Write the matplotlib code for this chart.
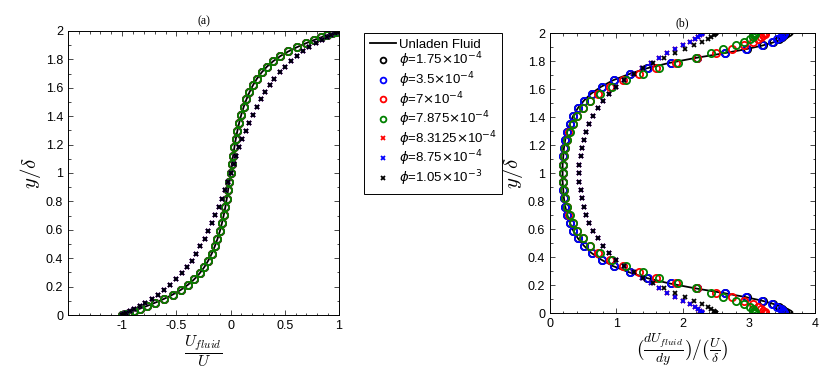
import matplotlib
matplotlib.use('Agg')
import matplotlib.pyplot as plt
from matplotlib.ticker import MultipleLocator, FormatStrFormatter
from matplotlib.font_manager import FontProperties

plt.rcParams['font.family'] = ['Liberation Sans', 'DejaVu Sans']
plt.rcParams['mathtext.fontset'] = 'cm'

# wall-normal positions of the samples (same for every series)
y_pos = [0.0, 0.0018, 0.0073, 0.0164, 0.0291, 0.0453, 0.0650, 0.0881, 0.1145,
         0.1442, 0.1770, 0.2128, 0.2515, 0.2929, 0.3369, 0.3833, 0.4319, 0.4827,
         0.5353, 0.5895, 0.6454, 0.7026, 0.7607, 0.8196, 0.8795, 0.9396, 1.0,
         1.0604, 1.1205, 1.1804, 1.2393, 1.2974, 1.3546, 1.4105, 1.4647, 1.5173,
         1.5681, 1.6167, 1.6631, 1.7071, 1.7485, 1.7872, 1.8230, 1.8558, 1.8855,
         1.9119, 1.9350, 1.9547, 1.9709, 1.9836, 1.9927, 1.9982, 2.0]

# (a) velocity profiles
u_unladen = [-1.0, -0.994, -0.973, -0.940, -0.894, -0.836, -0.768, -0.693, -0.613,
             -0.534, -0.460, -0.394, -0.336, -0.286, -0.243, -0.206, -0.174, -0.146,
             -0.121, -0.099, -0.080, -0.063, -0.048, -0.035, -0.023, -0.011, 0.0,
             0.011, 0.023, 0.035, 0.048, 0.063, 0.080, 0.099, 0.121, 0.146,
             0.174, 0.206, 0.243, 0.286, 0.336, 0.394, 0.460, 0.534, 0.613,
             0.693, 0.768, 0.836, 0.894, 0.940, 0.973, 0.994, 1.0]
u_dense = [-1.0, -0.995, -0.983, -0.961, -0.930, -0.890, -0.840, -0.785, -0.728,
           -0.672, -0.615, -0.558, -0.502, -0.452, -0.405, -0.360, -0.318, -0.278,
           -0.240, -0.205, -0.172, -0.140, -0.110, -0.082, -0.054, -0.027, 0.0,
           0.027, 0.054, 0.082, 0.110, 0.140, 0.172, 0.205, 0.240, 0.278,
           0.318, 0.360, 0.405, 0.452, 0.502, 0.558, 0.615, 0.672, 0.728,
           0.785, 0.840, 0.890, 0.930, 0.961, 0.983, 0.995, 1.0]

# (b) velocity gradients
g_unladen = [3.62, 3.65, 3.66, 3.64, 3.59, 3.50, 3.38, 3.21, 2.96, 2.62, 2.20, 1.80, 1.46,
             1.19, 0.95, 0.77, 0.62, 0.51, 0.42, 0.35, 0.30, 0.26, 0.23, 0.21, 0.20, 0.19,
             0.19,
             0.19, 0.20, 0.21, 0.23, 0.26, 0.30, 0.35, 0.42, 0.51, 0.62, 0.77, 0.95, 1.19,
             1.46, 1.80, 2.20, 2.62, 2.96, 3.21, 3.38, 3.50, 3.59, 3.64, 3.66, 3.65, 3.62]
g_175 = [3.55, 3.55, 3.54, 3.53, 3.50, 3.45, 3.36, 3.21, 2.97, 2.64, 2.22, 1.82, 1.47,
         1.20, 0.96, 0.78, 0.63, 0.51, 0.42, 0.35, 0.30, 0.26, 0.23, 0.21, 0.20, 0.19,
         0.19,
         0.19, 0.20, 0.21, 0.23, 0.26, 0.30, 0.35, 0.42, 0.51, 0.63, 0.78, 0.96, 1.20,
         1.47, 1.82, 2.22, 2.64, 2.97, 3.21, 3.36, 3.45, 3.50, 3.53, 3.54, 3.55, 3.55]
g_35 = [3.53, 3.53, 3.52, 3.51, 3.48, 3.43, 3.35, 3.20, 2.96, 2.64, 2.22, 1.83, 1.48,
        1.20, 0.96, 0.78, 0.63, 0.51, 0.42, 0.35, 0.30, 0.26, 0.23, 0.21, 0.20, 0.19,
        0.19,
        0.19, 0.20, 0.21, 0.23, 0.26, 0.30, 0.35, 0.42, 0.51, 0.63, 0.78, 0.96, 1.20,
        1.48, 1.83, 2.22, 2.64, 2.96, 3.20, 3.35, 3.43, 3.48, 3.51, 3.52, 3.53, 3.53]
g_70 = [3.25, 3.25, 3.24, 3.22, 3.19, 3.14, 3.06, 2.92, 2.74, 2.50, 2.22, 1.90, 1.60,
        1.34, 1.10, 0.90, 0.73, 0.60, 0.49, 0.41, 0.34, 0.29, 0.25, 0.23, 0.21, 0.20,
        0.20,
        0.20, 0.21, 0.23, 0.25, 0.29, 0.34, 0.41, 0.49, 0.60, 0.73, 0.90, 1.10, 1.34,
        1.60, 1.90, 2.22, 2.50, 2.74, 2.92, 3.06, 3.14, 3.19, 3.22, 3.24, 3.25, 3.25]
g_7875 = [3.10, 3.10, 3.09, 3.08, 3.06, 3.02, 2.93, 2.80, 2.61, 2.43, 2.20, 1.93, 1.65,
          1.40, 1.15, 0.93, 0.75, 0.61, 0.50, 0.41, 0.35, 0.30, 0.26, 0.23, 0.21, 0.20,
          0.20,
          0.20, 0.21, 0.23, 0.26, 0.30, 0.35, 0.41, 0.50, 0.61, 0.75, 0.93, 1.15, 1.40,
          1.65, 1.93, 2.20, 2.43, 2.61, 2.80, 2.93, 3.02, 3.06, 3.08, 3.09, 3.10, 3.10]
g_dense = [2.30, 2.30, 2.29, 2.27, 2.24, 2.19, 2.11, 2.01, 1.89, 1.77, 1.65, 1.52, 1.39,
           1.25, 1.11, 0.99, 0.89, 0.80, 0.72, 0.65, 0.59, 0.54, 0.51, 0.48, 0.46, 0.44,
           0.44,
           0.44, 0.46, 0.48, 0.51, 0.54, 0.59, 0.65, 0.72, 0.80, 0.89, 0.99, 1.11, 1.25,
           1.39, 1.52, 1.65, 1.77, 1.89, 2.01, 2.11, 2.19, 2.24, 2.27, 2.29, 2.30, 2.30]
g_105 = [2.50, 2.50, 2.49, 2.47, 2.43, 2.38, 2.29, 2.17, 2.03, 1.88, 1.72, 1.56, 1.41,
         1.26, 1.11, 0.99, 0.89, 0.80, 0.72, 0.65, 0.59, 0.54, 0.51, 0.48, 0.46, 0.44,
         0.44,
         0.44, 0.46, 0.48, 0.51, 0.54, 0.59, 0.65, 0.72, 0.80, 0.89, 0.99, 1.11, 1.26,
         1.41, 1.56, 1.72, 1.88, 2.03, 2.17, 2.29, 2.38, 2.43, 2.47, 2.49, 2.50, 2.50]

labels = ['Unladen Fluid',
          r'$\phi$=1.75$\times$10$^{-4}$',
          r'$\phi$=3.5$\times$10$^{-4}$',
          r'$\phi$=7$\times$10$^{-4}$',
          r'$\phi$=7.875$\times$10$^{-4}$',
          r'$\phi$=8.3125$\times$10$^{-4}$',
          r'$\phi$=8.75$\times$10$^{-4}$',
          r'$\phi$=1.05$\times$10$^{-3}$']
green = (0, 0.5, 0)

fig = plt.figure(figsize=(8.3, 3.72), dpi=100)
ax1 = fig.add_axes([0.0819, 0.153, 0.3265, 0.764])
ax2 = fig.add_axes([0.6627, 0.158, 0.3193, 0.753])

circ = dict(ls='none', marker='o', ms=5.2, mfc='none', mew=1.3)
cross = dict(ls='none', marker='x', ms=3.5, mew=1.3)

# (a)
h = []
h += ax1.plot(u_unladen, y_pos, 'k-', lw=1.3)
h += ax1.plot(u_unladen, y_pos, mec='k', **circ)
h += ax1.plot(u_unladen, y_pos, mec='b', **circ)
h += ax1.plot(u_unladen, y_pos, mec='r', **circ)
h += ax1.plot(u_unladen, y_pos, mec=green, **circ)
h += ax1.plot(u_dense, y_pos, mec='r', **cross)
h += ax1.plot(u_dense, y_pos, mec='b', **cross)
h += ax1.plot(u_dense, y_pos, mec='k', **cross)

# (b)
ax2.plot(g_unladen, y_pos, 'k-', lw=1.3)
ax2.plot(g_175, y_pos, mec='k', **circ)
ax2.plot(g_35, y_pos, mec='b', **circ)
ax2.plot(g_70, y_pos, mec='r', **circ)
ax2.plot(g_7875, y_pos, mec=green, **circ)
ax2.plot(g_dense, y_pos, mec='r', **cross)
ax2.plot(g_dense, y_pos, mec='b', **cross)
ax2.plot(g_105, y_pos, mec='k', **cross)

ax1.set_xlim(-1.5, 1)
ax1.set_xticks([-1, -0.5, 0, 0.5, 1])
ax1.xaxis.set_minor_locator(MultipleLocator(0.1))
ax2.set_xlim(0, 4)
ax2.xaxis.set_major_locator(MultipleLocator(1))
ax2.xaxis.set_minor_locator(MultipleLocator(0.2))

for ax, t in ((ax1, '(a)'), (ax2, '(b)')):
    ax.set_ylim(0, 2)
    ax.yaxis.set_major_locator(MultipleLocator(0.2))
    ax.yaxis.set_minor_locator(MultipleLocator(0.1))
    ax.xaxis.set_major_formatter(FormatStrFormatter('%g'))
    ax.yaxis.set_major_formatter(FormatStrFormatter('%g'))
    ax.tick_params(which='both', direction='in', top=True, right=True,
                   labelsize=9, width=0.5)
    ax.tick_params(which='major', length=3.5)
    ax.tick_params(which='minor', length=1.8)
    for s in ax.spines.values():
        s.set_linewidth(0.7)
    ax.set_title(t, fontsize=8.5, family='Liberation Serif', pad=5)
    ax.set_ylabel(r'$y/\delta$', fontsize=15, labelpad=2)

ax1.set_xlabel(r'$\dfrac{U_{fluid}}{U}$', fontsize=11.5, labelpad=1)
ax2.set_xlabel(r'$(\frac{dU_{fluid}}{dy})/(\frac{U}{\delta})$', fontsize=14, labelpad=1)

leg = fig.legend(h[:8], labels, loc='upper left',
                 bbox_to_anchor=(364 / 830, 1 - 33 / 372),
                 prop=FontProperties(family='Liberation Sans', size=9.5,
                                     math_fontfamily='dejavusans'),
                 numpoints=1, handlelength=2.0, handletextpad=0.2,
                 borderpad=0.42, labelspacing=0.0, fancybox=False,
                 framealpha=1, edgecolor='k', borderaxespad=0, markerscale=0.8)
leg.get_frame().set_linewidth(0.7)

fig.savefig('out.png', dpi=100)
